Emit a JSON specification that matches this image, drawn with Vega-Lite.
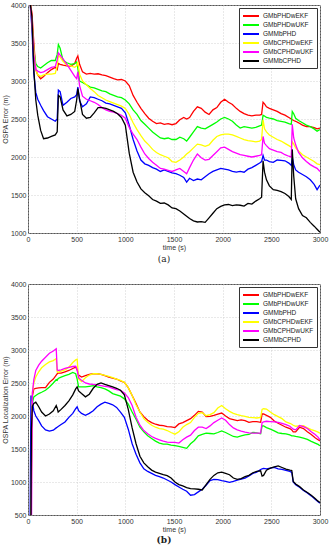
{
  "$schema": "https://vega.github.io/schema/vega-lite/v6.json",
  "background": "white",
  "padding": {"left": 0, "top": 0, "right": 2, "bottom": 0},
  "bounds": "flush",
  "spacing": 51,
  "config": {
    "font": "Liberation Sans",
    "view": {"stroke": "#555555", "strokeWidth": 1},
    "axis": {
      "labelFont": "Liberation Sans", "labelFontSize": 7, "labelColor": "#333333",
      "titleFont": "Liberation Sans", "titleFontSize": 7, "titleFontWeight": "normal", "titleColor": "#333333",
      "domain": false, "grid": true, "gridColor": "#c8c8c8", "gridDash": [1, 2], "gridWidth": 0.8,
      "ticks": false, "labelPadding": 2,
      "labelFlush": false, "labelOverlap": false, "labelBound": false
    },
    "legend": {
      "orient": "top-right", "offset": 3, "strokeColor": "#333333", "fillColor": "white",
      "padding": 3, "labelFont": "Liberation Sans", "labelFontSize": 6.5, "labelColor": "#222222",
      "symbolType": "M-1,0H3", "symbolStrokeWidth": 2, "symbolSize": 64, "rowPadding": 0, "labelOffset": 11,
      "labelLimit": 0
    }
  },
  "resolve": {"scale": {"color": "independent"}, "legend": {"color": "independent"}},
  "datasets": {
    "a": [
      {"t":0,"GMbPHDwEKF":4100,"GMbPHDwUKF":4100,"GMMbPHD":4100,"GMbCPHDwEKF":4100,"GMbCPHDwUKF":4100,"GMMbCPHD":4100},
      {"t":20,"GMbPHDwEKF":4050,"GMbPHDwUKF":4050,"GMMbPHD":4050,"GMbCPHDwEKF":4050,"GMbCPHDwUKF":4050,"GMMbCPHD":4050},
      {"t":40,"GMbPHDwEKF":3900,"GMbPHDwUKF":3800,"GMMbPHD":3700,"GMbCPHDwEKF":3800,"GMbCPHDwUKF":3800,"GMMbCPHD":3850},
      {"t":60,"GMbPHDwEKF":3500,"GMbPHDwUKF":3400,"GMMbPHD":3100,"GMbCPHDwEKF":3400,"GMbCPHDwUKF":3350,"GMMbCPHD":3150},
      {"t":80,"GMbPHDwEKF":3150,"GMbPHDwUKF":3230,"GMMbPHD":2850,"GMbCPHDwEKF":3150,"GMbCPHDwUKF":3150,"GMMbCPHD":2750},
      {"t":100,"GMbPHDwEKF":3080,"GMbPHDwUKF":3190,"GMMbPHD":2760,"GMbCPHDwEKF":3080,"GMbCPHDwUKF":3130,"GMMbCPHD":2550},
      {"t":130,"GMbPHDwEKF":3030,"GMbPHDwUKF":3170,"GMMbPHD":2680,"GMbCPHDwEKF":3060,"GMbCPHDwUKF":3110,"GMMbCPHD":2350},
      {"t":160,"GMbPHDwEKF":3060,"GMbPHDwUKF":3200,"GMMbPHD":2610,"GMbCPHDwEKF":3080,"GMbCPHDwUKF":3120,"GMMbCPHD":2240},
      {"t":200,"GMbPHDwEKF":3110,"GMbPHDwUKF":3240,"GMMbPHD":2530,"GMbCPHDwEKF":3090,"GMbCPHDwUKF":3150,"GMMbCPHD":2250},
      {"t":240,"GMbPHDwEKF":3150,"GMbPHDwUKF":3270,"GMMbPHD":2500,"GMbCPHDwEKF":3090,"GMbCPHDwUKF":3180,"GMMbCPHD":2270},
      {"t":280,"GMbPHDwEKF":3180,"GMbPHDwUKF":3270,"GMMbPHD":2470,"GMbCPHDwEKF":3100,"GMbCPHDwUKF":3190,"GMMbCPHD":2290},
      {"t":300,"GMbPHDwEKF":3150,"GMbPHDwUKF":3350,"GMMbPHD":2500,"GMbCPHDwEKF":3200,"GMbCPHDwUKF":3280,"GMMbCPHD":2330},
      {"t":312,"GMbPHDwEKF":3230,"GMbPHDwUKF":3480,"GMMbPHD":2880,"GMbCPHDwEKF":3340,"GMbCPHDwUKF":3370,"GMMbCPHD":2810},
      {"t":330,"GMbPHDwEKF":3220,"GMbPHDwUKF":3430,"GMMbPHD":2860,"GMbCPHDwEKF":3310,"GMbCPHDwUKF":3340,"GMMbCPHD":2790},
      {"t":360,"GMbPHDwEKF":3210,"GMbPHDwUKF":3270,"GMMbPHD":2680,"GMbCPHDwEKF":3260,"GMbCPHDwUKF":3290,"GMMbCPHD":2620},
      {"t":400,"GMbPHDwEKF":3200,"GMbPHDwUKF":3240,"GMMbPHD":2720,"GMbCPHDwEKF":3210,"GMbCPHDwUKF":3220,"GMMbCPHD":2540},
      {"t":440,"GMbPHDwEKF":3195,"GMbPHDwUKF":3220,"GMMbPHD":2770,"GMbCPHDwEKF":3200,"GMbCPHDwUKF":3140,"GMMbCPHD":2560},
      {"t":480,"GMbPHDwEKF":3230,"GMbPHDwUKF":3230,"GMMbPHD":2790,"GMbCPHDwEKF":3180,"GMbCPHDwUKF":3060,"GMMbCPHD":2600},
      {"t":500,"GMbPHDwEKF":3300,"GMbPHDwUKF":3250,"GMMbPHD":2820,"GMbCPHDwEKF":3200,"GMbCPHDwUKF":3030,"GMMbCPHD":2750},
      {"t":512,"GMbPHDwEKF":3330,"GMbPHDwUKF":3170,"GMMbPHD":2920,"GMbCPHDwEKF":3250,"GMbCPHDwUKF":3120,"GMMbCPHD":2900},
      {"t":530,"GMbPHDwEKF":3220,"GMbPHDwUKF":3000,"GMMbPHD":2740,"GMbCPHDwEKF":3090,"GMbCPHDwUKF":2940,"GMMbCPHD":2760},
      {"t":560,"GMbPHDwEKF":3120,"GMbPHDwUKF":2980,"GMMbPHD":2660,"GMbCPHDwEKF":3000,"GMbCPHDwUKF":2800,"GMMbCPHD":2560},
      {"t":600,"GMbPHDwEKF":3090,"GMbPHDwUKF":2950,"GMMbPHD":2700,"GMbCPHDwEKF":2950,"GMbCPHDwUKF":2760,"GMMbCPHD":2510},
      {"t":640,"GMbPHDwEKF":3100,"GMbPHDwUKF":2920,"GMMbPHD":2790,"GMbCPHDwEKF":2900,"GMbCPHDwUKF":2740,"GMMbCPHD":2520},
      {"t":680,"GMbPHDwEKF":3090,"GMbPHDwUKF":2910,"GMMbPHD":2780,"GMbCPHDwEKF":2860,"GMbCPHDwUKF":2720,"GMMbCPHD":2580},
      {"t":720,"GMbPHDwEKF":3095,"GMbPHDwUKF":2890,"GMMbPHD":2760,"GMbCPHDwEKF":2810,"GMbCPHDwUKF":2690,"GMMbCPHD":2650},
      {"t":760,"GMbPHDwEKF":3080,"GMbPHDwUKF":2870,"GMMbPHD":2740,"GMbCPHDwEKF":2780,"GMbCPHDwUKF":2650,"GMMbCPHD":2650},
      {"t":800,"GMbPHDwEKF":3070,"GMbPHDwUKF":2860,"GMMbPHD":2710,"GMbCPHDwEKF":2750,"GMbCPHDwUKF":2620,"GMMbCPHD":2640},
      {"t":840,"GMbPHDwEKF":3050,"GMbPHDwUKF":2830,"GMMbPHD":2700,"GMbCPHDwEKF":2730,"GMbCPHDwUKF":2600,"GMMbCPHD":2620},
      {"t":880,"GMbPHDwEKF":3030,"GMbPHDwUKF":2810,"GMMbPHD":2680,"GMbCPHDwEKF":2710,"GMbCPHDwUKF":2590,"GMMbCPHD":2600},
      {"t":920,"GMbPHDwEKF":3015,"GMbPHDwUKF":2790,"GMMbPHD":2660,"GMbCPHDwEKF":2690,"GMbCPHDwUKF":2570,"GMMbCPHD":2570},
      {"t":960,"GMbPHDwEKF":3020,"GMbPHDwUKF":2780,"GMMbPHD":2640,"GMbCPHDwEKF":2670,"GMbCPHDwUKF":2550,"GMMbCPHD":2520},
      {"t":1000,"GMbPHDwEKF":3000,"GMbPHDwUKF":2750,"GMMbPHD":2580,"GMbCPHDwEKF":2640,"GMbCPHDwUKF":2510,"GMMbCPHD":2420},
      {"t":1040,"GMbPHDwEKF":2940,"GMbPHDwUKF":2700,"GMMbPHD":2420,"GMbCPHDwEKF":2560,"GMbCPHDwUKF":2390,"GMMbCPHD":2050},
      {"t":1080,"GMbPHDwEKF":2810,"GMbPHDwUKF":2620,"GMMbPHD":2230,"GMbCPHDwEKF":2450,"GMbCPHDwUKF":2300,"GMMbCPHD":1800},
      {"t":1120,"GMbPHDwEKF":2720,"GMbPHDwUKF":2560,"GMMbPHD":2080,"GMbCPHDwEKF":2360,"GMbCPHDwUKF":2230,"GMMbCPHD":1670},
      {"t":1160,"GMbPHDwEKF":2640,"GMbPHDwUKF":2480,"GMMbPHD":1960,"GMbCPHDwEKF":2280,"GMbCPHDwUKF":2130,"GMMbCPHD":1580},
      {"t":1200,"GMbPHDwEKF":2570,"GMbPHDwUKF":2430,"GMMbPHD":1910,"GMbCPHDwEKF":2210,"GMbCPHDwUKF":2040,"GMMbCPHD":1530},
      {"t":1240,"GMbPHDwEKF":2510,"GMbPHDwUKF":2380,"GMMbPHD":1890,"GMbCPHDwEKF":2160,"GMbCPHDwUKF":1980,"GMMbCPHD":1490},
      {"t":1280,"GMbPHDwEKF":2470,"GMbPHDwUKF":2330,"GMMbPHD":1860,"GMbCPHDwEKF":2100,"GMbCPHDwUKF":1930,"GMMbCPHD":1440},
      {"t":1320,"GMbPHDwEKF":2440,"GMbPHDwUKF":2290,"GMMbPHD":1840,"GMbCPHDwEKF":2060,"GMbCPHDwUKF":1890,"GMMbCPHD":1420},
      {"t":1360,"GMbPHDwEKF":2450,"GMbPHDwUKF":2250,"GMMbPHD":1810,"GMbCPHDwEKF":2030,"GMbCPHDwUKF":1850,"GMMbCPHD":1390},
      {"t":1400,"GMbPHDwEKF":2430,"GMbPHDwUKF":2240,"GMMbPHD":1830,"GMbCPHDwEKF":2010,"GMbCPHDwUKF":1840,"GMMbCPHD":1395},
      {"t":1440,"GMbPHDwEKF":2440,"GMbPHDwUKF":2250,"GMMbPHD":1810,"GMbCPHDwEKF":1990,"GMbCPHDwUKF":1825,"GMMbCPHD":1370},
      {"t":1480,"GMbPHDwEKF":2425,"GMbPHDwUKF":2230,"GMMbPHD":1790,"GMbCPHDwEKF":1940,"GMbCPHDwUKF":1810,"GMMbCPHD":1330},
      {"t":1520,"GMbPHDwEKF":2440,"GMbPHDwUKF":2230,"GMMbPHD":1780,"GMbCPHDwEKF":1930,"GMbCPHDwUKF":1830,"GMMbCPHD":1320},
      {"t":1560,"GMbPHDwEKF":2490,"GMbPHDwUKF":2260,"GMMbPHD":1760,"GMbCPHDwEKF":1960,"GMbCPHDwUKF":1850,"GMMbCPHD":1290},
      {"t":1600,"GMbPHDwEKF":2520,"GMbPHDwUKF":2240,"GMMbPHD":1730,"GMbCPHDwEKF":2000,"GMbCPHDwUKF":1810,"GMMbCPHD":1250},
      {"t":1630,"GMbPHDwEKF":2500,"GMbPHDwUKF":2210,"GMMbPHD":1670,"GMbCPHDwEKF":2040,"GMbCPHDwUKF":1780,"GMMbCPHD":1220},
      {"t":1660,"GMbPHDwEKF":2520,"GMbPHDwUKF":2260,"GMMbPHD":1720,"GMbCPHDwEKF":2070,"GMbCPHDwUKF":1860,"GMMbCPHD":1190},
      {"t":1700,"GMbPHDwEKF":2600,"GMbPHDwUKF":2330,"GMMbPHD":1690,"GMbCPHDwEKF":2120,"GMbCPHDwUKF":1960,"GMMbCPHD":1160},
      {"t":1740,"GMbPHDwEKF":2660,"GMbPHDwUKF":2400,"GMMbPHD":1710,"GMbCPHDwEKF":2170,"GMbCPHDwUKF":2040,"GMMbCPHD":1145},
      {"t":1780,"GMbPHDwEKF":2640,"GMbPHDwUKF":2380,"GMMbPHD":1700,"GMbCPHDwEKF":2160,"GMbCPHDwUKF":1990,"GMMbCPHD":1150},
      {"t":1820,"GMbPHDwEKF":2590,"GMbPHDwUKF":2370,"GMMbPHD":1740,"GMbCPHDwEKF":2140,"GMbCPHDwUKF":1960,"GMMbCPHD":1140},
      {"t":1860,"GMbPHDwEKF":2560,"GMbPHDwUKF":2400,"GMMbPHD":1780,"GMbCPHDwEKF":2160,"GMbCPHDwUKF":1970,"GMMbCPHD":1200},
      {"t":1900,"GMbPHDwEKF":2620,"GMbPHDwUKF":2430,"GMMbPHD":1810,"GMbCPHDwEKF":2220,"GMbCPHDwUKF":2020,"GMMbCPHD":1260},
      {"t":1940,"GMbPHDwEKF":2650,"GMbPHDwUKF":2460,"GMMbPHD":1830,"GMbCPHDwEKF":2270,"GMbCPHDwUKF":2070,"GMMbCPHD":1320},
      {"t":1980,"GMbPHDwEKF":2720,"GMbPHDwUKF":2500,"GMMbPHD":1850,"GMbCPHDwEKF":2290,"GMbCPHDwUKF":2120,"GMMbCPHD":1350},
      {"t":2020,"GMbPHDwEKF":2760,"GMbPHDwUKF":2520,"GMMbPHD":1840,"GMbCPHDwEKF":2300,"GMbCPHDwUKF":2130,"GMMbCPHD":1370},
      {"t":2060,"GMbPHDwEKF":2720,"GMbPHDwUKF":2500,"GMMbPHD":1830,"GMbCPHDwEKF":2300,"GMbCPHDwUKF":2100,"GMMbCPHD":1375},
      {"t":2100,"GMbPHDwEKF":2690,"GMbPHDwUKF":2470,"GMMbPHD":1810,"GMbCPHDwEKF":2290,"GMbCPHDwUKF":2070,"GMMbCPHD":1360},
      {"t":2140,"GMbPHDwEKF":2640,"GMbPHDwUKF":2420,"GMMbPHD":1800,"GMbCPHDwEKF":2270,"GMbCPHDwUKF":2050,"GMMbCPHD":1370},
      {"t":2180,"GMbPHDwEKF":2600,"GMbPHDwUKF":2380,"GMMbPHD":1810,"GMbCPHDwEKF":2250,"GMbCPHDwUKF":2030,"GMMbCPHD":1365},
      {"t":2220,"GMbPHDwEKF":2570,"GMbPHDwUKF":2400,"GMMbPHD":1800,"GMbCPHDwEKF":2230,"GMbCPHDwUKF":2020,"GMMbCPHD":1355},
      {"t":2260,"GMbPHDwEKF":2550,"GMbPHDwUKF":2390,"GMMbPHD":1840,"GMbCPHDwEKF":2215,"GMbCPHDwUKF":2010,"GMMbCPHD":1390},
      {"t":2300,"GMbPHDwEKF":2540,"GMbPHDwUKF":2380,"GMMbPHD":1860,"GMbCPHDwEKF":2210,"GMbCPHDwUKF":2000,"GMMbCPHD":1380},
      {"t":2340,"GMbPHDwEKF":2550,"GMbPHDwUKF":2390,"GMMbPHD":1890,"GMbCPHDwEKF":2200,"GMbCPHDwUKF":2010,"GMMbCPHD":1420},
      {"t":2380,"GMbPHDwEKF":2550,"GMbPHDwUKF":2410,"GMMbPHD":1920,"GMbCPHDwEKF":2210,"GMbCPHDwUKF":2020,"GMMbCPHD":1450},
      {"t":2400,"GMbPHDwEKF":2560,"GMbPHDwUKF":2420,"GMMbPHD":1940,"GMbCPHDwEKF":2230,"GMbCPHDwUKF":2030,"GMMbCPHD":1470},
      {"t":2415,"GMbPHDwEKF":2720,"GMbPHDwUKF":2550,"GMMbPHD":2020,"GMbCPHDwEKF":2490,"GMbCPHDwUKF":2270,"GMMbCPHD":1950},
      {"t":2430,"GMbPHDwEKF":2700,"GMbPHDwUKF":2540,"GMMbPHD":1960,"GMbCPHDwEKF":2370,"GMbCPHDwUKF":2180,"GMMbCPHD":1800},
      {"t":2450,"GMbPHDwEKF":2660,"GMbPHDwUKF":2520,"GMMbPHD":1960,"GMbCPHDwEKF":2330,"GMbCPHDwUKF":2150,"GMMbCPHD":1700},
      {"t":2480,"GMbPHDwEKF":2640,"GMbPHDwUKF":2510,"GMMbPHD":1940,"GMbCPHDwEKF":2290,"GMbCPHDwUKF":2110,"GMMbCPHD":1620},
      {"t":2520,"GMbPHDwEKF":2620,"GMbPHDwUKF":2500,"GMMbPHD":1930,"GMbCPHDwEKF":2260,"GMbCPHDwUKF":2090,"GMMbCPHD":1570},
      {"t":2560,"GMbPHDwEKF":2600,"GMbPHDwUKF":2480,"GMMbPHD":1960,"GMbCPHDwEKF":2230,"GMbCPHDwUKF":2070,"GMMbCPHD":1560},
      {"t":2600,"GMbPHDwEKF":2570,"GMbPHDwUKF":2470,"GMMbPHD":1955,"GMbCPHDwEKF":2210,"GMbCPHDwUKF":2060,"GMMbCPHD":1545},
      {"t":2640,"GMbPHDwEKF":2550,"GMbPHDwUKF":2460,"GMMbPHD":1950,"GMbCPHDwEKF":2180,"GMbCPHDwUKF":2030,"GMMbCPHD":1520},
      {"t":2680,"GMbPHDwEKF":2520,"GMbPHDwUKF":2440,"GMMbPHD":1920,"GMbCPHDwEKF":2150,"GMbCPHDwUKF":2010,"GMMbCPHD":1480},
      {"t":2705,"GMbPHDwEKF":2500,"GMbPHDwUKF":2430,"GMMbPHD":1890,"GMbCPHDwEKF":2130,"GMbCPHDwUKF":2000,"GMMbCPHD":1440},
      {"t":2715,"GMbPHDwEKF":2490,"GMbPHDwUKF":2600,"GMMbPHD":2000,"GMbCPHDwEKF":2200,"GMbCPHDwUKF":2430,"GMMbCPHD":2100},
      {"t":2730,"GMbPHDwEKF":2480,"GMbPHDwUKF":2570,"GMMbPHD":1900,"GMbCPHDwEKF":2170,"GMbCPHDwUKF":2250,"GMMbCPHD":1750},
      {"t":2750,"GMbPHDwEKF":2470,"GMbPHDwUKF":2510,"GMMbPHD":1830,"GMbCPHDwEKF":2120,"GMbCPHDwUKF":2160,"GMMbCPHD":1450},
      {"t":2780,"GMbPHDwEKF":2450,"GMbPHDwUKF":2480,"GMMbPHD":1800,"GMbCPHDwEKF":2080,"GMbCPHDwUKF":2060,"GMMbCPHD":1320},
      {"t":2820,"GMbPHDwEKF":2420,"GMbPHDwUKF":2450,"GMMbPHD":1770,"GMbCPHDwEKF":2030,"GMbCPHDwUKF":1990,"GMMbCPHD":1230},
      {"t":2860,"GMbPHDwEKF":2400,"GMbPHDwUKF":2420,"GMMbPHD":1740,"GMbCPHDwEKF":2000,"GMbCPHDwUKF":1940,"GMMbCPHD":1200},
      {"t":2900,"GMbPHDwEKF":2400,"GMbPHDwUKF":2400,"GMMbPHD":1700,"GMbCPHDwEKF":1970,"GMbCPHDwUKF":1900,"GMMbCPHD":1140},
      {"t":2940,"GMbPHDwEKF":2385,"GMbPHDwUKF":2370,"GMMbPHD":1640,"GMbCPHDwEKF":1940,"GMbCPHDwUKF":1870,"GMMbCPHD":1090},
      {"t":2970,"GMbPHDwEKF":2370,"GMbPHDwUKF":2340,"GMMbPHD":1570,"GMbCPHDwEKF":1910,"GMbCPHDwUKF":1850,"GMMbCPHD":1050},
      {"t":3000,"GMbPHDwEKF":2380,"GMbPHDwUKF":2360,"GMMbPHD":1630,"GMbCPHDwEKF":1900,"GMbCPHDwUKF":1810,"GMMbCPHD":1010}
    ],
    "b": [
      {"t":0,"GMbPHDwEKF":0,"GMbPHDwUKF":0,"GMMbPHD":0,"GMbCPHDwEKF":0,"GMbCPHDwUKF":0,"GMMbCPHD":0},
      {"t":20,"GMbPHDwEKF":0,"GMbPHDwUKF":0,"GMMbPHD":0,"GMbCPHDwEKF":0,"GMbCPHDwUKF":0,"GMMbCPHD":0},
      {"t":30,"GMbPHDwEKF":200,"GMbPHDwUKF":100,"GMMbPHD":2300,"GMbCPHDwEKF":100,"GMbCPHDwUKF":0,"GMMbCPHD":300},
      {"t":35,"GMbPHDwEKF":1500,"GMbPHDwUKF":1200,"GMMbPHD":2300,"GMbCPHDwEKF":1000,"GMbCPHDwUKF":200,"GMMbCPHD":1800},
      {"t":45,"GMbPHDwEKF":2300,"GMbPHDwUKF":2200,"GMMbPHD":2220,"GMbCPHDwEKF":2350,"GMbCPHDwUKF":2350,"GMMbCPHD":2150},
      {"t":60,"GMbPHDwEKF":2410,"GMbPHDwUKF":2290,"GMMbPHD":2080,"GMbCPHDwEKF":2500,"GMbCPHDwUKF":2550,"GMMbCPHD":2190},
      {"t":80,"GMbPHDwEKF":2420,"GMbPHDwUKF":2310,"GMMbPHD":2000,"GMbCPHDwEKF":2590,"GMbCPHDwUKF":2690,"GMMbCPHD":2210},
      {"t":110,"GMbPHDwEKF":2425,"GMbPHDwUKF":2340,"GMMbPHD":1930,"GMbCPHDwEKF":2670,"GMbCPHDwUKF":2770,"GMMbCPHD":2140},
      {"t":140,"GMbPHDwEKF":2430,"GMbPHDwUKF":2360,"GMMbPHD":1850,"GMbCPHDwEKF":2730,"GMbCPHDwUKF":2830,"GMMbCPHD":2060},
      {"t":180,"GMbPHDwEKF":2430,"GMbPHDwUKF":2390,"GMMbPHD":1790,"GMbCPHDwEKF":2780,"GMbCPHDwUKF":2890,"GMMbCPHD":2000},
      {"t":220,"GMbPHDwEKF":2510,"GMbPHDwUKF":2440,"GMMbPHD":1770,"GMbCPHDwEKF":2820,"GMbCPHDwUKF":2950,"GMMbCPHD":2030},
      {"t":260,"GMbPHDwEKF":2560,"GMbPHDwUKF":2500,"GMMbPHD":1785,"GMbCPHDwEKF":2840,"GMbCPHDwUKF":2985,"GMMbCPHD":2080},
      {"t":290,"GMbPHDwEKF":2620,"GMbPHDwUKF":2550,"GMMbPHD":1820,"GMbCPHDwEKF":2870,"GMbCPHDwUKF":3020,"GMMbCPHD":2160},
      {"t":300,"GMbPHDwEKF":2640,"GMbPHDwUKF":2540,"GMMbPHD":1830,"GMbCPHDwEKF":2670,"GMbCPHDwUKF":2700,"GMMbCPHD":2120},
      {"t":310,"GMbPHDwEKF":2650,"GMbPHDwUKF":2570,"GMMbPHD":1840,"GMbCPHDwEKF":2660,"GMbCPHDwUKF":2690,"GMMbCPHD":2060},
      {"t":340,"GMbPHDwEKF":2650,"GMbPHDwUKF":2590,"GMMbPHD":1870,"GMbCPHDwEKF":2680,"GMbCPHDwUKF":2700,"GMMbCPHD":2100},
      {"t":380,"GMbPHDwEKF":2670,"GMbPHDwUKF":2610,"GMMbPHD":1910,"GMbCPHDwEKF":2700,"GMbCPHDwUKF":2720,"GMMbCPHD":2160},
      {"t":420,"GMbPHDwEKF":2690,"GMbPHDwUKF":2630,"GMMbPHD":1980,"GMbCPHDwEKF":2740,"GMbCPHDwUKF":2735,"GMMbCPHD":2230},
      {"t":460,"GMbPHDwEKF":2720,"GMbPHDwUKF":2660,"GMMbPHD":2040,"GMbCPHDwEKF":2810,"GMbCPHDwUKF":2750,"GMMbCPHD":2320},
      {"t":490,"GMbPHDwEKF":2740,"GMbPHDwUKF":2640,"GMMbPHD":2110,"GMbCPHDwEKF":2850,"GMbCPHDwUKF":2755,"GMMbCPHD":2410},
      {"t":505,"GMbPHDwEKF":2700,"GMbPHDwUKF":2560,"GMMbPHD":2140,"GMbCPHDwEKF":2860,"GMbCPHDwUKF":2700,"GMMbCPHD":2440},
      {"t":520,"GMbPHDwEKF":2620,"GMbPHDwUKF":2440,"GMMbPHD":2080,"GMbCPHDwEKF":2560,"GMbCPHDwUKF":2580,"GMMbCPHD":2380},
      {"t":550,"GMbPHDwEKF":2590,"GMbPHDwUKF":2440,"GMMbPHD":2040,"GMbCPHDwEKF":2520,"GMbCPHDwUKF":2540,"GMMbCPHD":2340},
      {"t":590,"GMbPHDwEKF":2610,"GMbPHDwUKF":2440,"GMMbPHD":2010,"GMbCPHDwEKF":2580,"GMbCPHDwUKF":2500,"GMMbCPHD":2290},
      {"t":630,"GMbPHDwEKF":2630,"GMbPHDwUKF":2450,"GMMbPHD":2040,"GMbCPHDwEKF":2620,"GMbCPHDwUKF":2485,"GMMbCPHD":2330},
      {"t":670,"GMbPHDwEKF":2640,"GMbPHDwUKF":2460,"GMMbPHD":2080,"GMbCPHDwEKF":2640,"GMbCPHDwUKF":2480,"GMMbCPHD":2420},
      {"t":710,"GMbPHDwEKF":2640,"GMbPHDwUKF":2440,"GMMbPHD":2140,"GMbCPHDwEKF":2640,"GMbCPHDwUKF":2470,"GMMbCPHD":2480},
      {"t":750,"GMbPHDwEKF":2630,"GMbPHDwUKF":2430,"GMMbPHD":2180,"GMbCPHDwEKF":2630,"GMbCPHDwUKF":2460,"GMMbCPHD":2500},
      {"t":790,"GMbPHDwEKF":2610,"GMbPHDwUKF":2410,"GMMbPHD":2210,"GMbCPHDwEKF":2615,"GMbCPHDwUKF":2450,"GMMbCPHD":2480},
      {"t":830,"GMbPHDwEKF":2590,"GMbPHDwUKF":2380,"GMMbPHD":2190,"GMbCPHDwEKF":2600,"GMbCPHDwUKF":2440,"GMMbCPHD":2460},
      {"t":870,"GMbPHDwEKF":2575,"GMbPHDwUKF":2340,"GMMbPHD":2170,"GMbCPHDwEKF":2580,"GMbCPHDwUKF":2420,"GMMbCPHD":2440},
      {"t":910,"GMbPHDwEKF":2560,"GMbPHDwUKF":2320,"GMMbPHD":2130,"GMbCPHDwEKF":2560,"GMbCPHDwUKF":2400,"GMMbCPHD":2420},
      {"t":950,"GMbPHDwEKF":2530,"GMbPHDwUKF":2300,"GMMbPHD":2060,"GMbCPHDwEKF":2540,"GMbCPHDwUKF":2390,"GMMbCPHD":2390},
      {"t":990,"GMbPHDwEKF":2510,"GMbPHDwUKF":2260,"GMMbPHD":1980,"GMbCPHDwEKF":2510,"GMbCPHDwUKF":2350,"GMMbCPHD":2320},
      {"t":1030,"GMbPHDwEKF":2430,"GMbPHDwUKF":2180,"GMMbPHD":1800,"GMbCPHDwEKF":2430,"GMbCPHDwUKF":2280,"GMMbCPHD":2100},
      {"t":1070,"GMbPHDwEKF":2310,"GMbPHDwUKF":2060,"GMMbPHD":1580,"GMbCPHDwEKF":2310,"GMbCPHDwUKF":2160,"GMMbCPHD":1820},
      {"t":1110,"GMbPHDwEKF":2190,"GMbPHDwUKF":1950,"GMMbPHD":1420,"GMbCPHDwEKF":2170,"GMbCPHDwUKF":1980,"GMMbCPHD":1580},
      {"t":1150,"GMbPHDwEKF":2060,"GMbPHDwUKF":1830,"GMMbPHD":1290,"GMbCPHDwEKF":2060,"GMbCPHDwUKF":1860,"GMMbCPHD":1390},
      {"t":1190,"GMbPHDwEKF":1990,"GMbPHDwUKF":1760,"GMMbPHD":1200,"GMbCPHDwEKF":1960,"GMbCPHDwUKF":1780,"GMMbCPHD":1290},
      {"t":1230,"GMbPHDwEKF":1935,"GMbPHDwUKF":1700,"GMMbPHD":1160,"GMbCPHDwEKF":1905,"GMbCPHDwUKF":1730,"GMMbCPHD":1230},
      {"t":1270,"GMbPHDwEKF":1900,"GMbPHDwUKF":1660,"GMMbPHD":1130,"GMbCPHDwEKF":1860,"GMbCPHDwUKF":1690,"GMMbCPHD":1180},
      {"t":1310,"GMbPHDwEKF":1875,"GMbPHDwUKF":1620,"GMMbPHD":1100,"GMbCPHDwEKF":1830,"GMbCPHDwUKF":1660,"GMMbCPHD":1150},
      {"t":1350,"GMbPHDwEKF":1860,"GMbPHDwUKF":1590,"GMMbPHD":1080,"GMbCPHDwEKF":1810,"GMbCPHDwUKF":1640,"GMMbCPHD":1130},
      {"t":1390,"GMbPHDwEKF":1855,"GMbPHDwUKF":1575,"GMMbPHD":1060,"GMbCPHDwEKF":1800,"GMbCPHDwUKF":1620,"GMMbCPHD":1110},
      {"t":1430,"GMbPHDwEKF":1840,"GMbPHDwUKF":1575,"GMMbPHD":1030,"GMbCPHDwEKF":1780,"GMbCPHDwUKF":1605,"GMMbCPHD":1095},
      {"t":1470,"GMbPHDwEKF":1835,"GMbPHDwUKF":1560,"GMMbPHD":1000,"GMbCPHDwEKF":1750,"GMbCPHDwUKF":1600,"GMMbCPHD":1060},
      {"t":1510,"GMbPHDwEKF":1825,"GMbPHDwUKF":1550,"GMMbPHD":960,"GMbCPHDwEKF":1725,"GMbCPHDwUKF":1600,"GMMbCPHD":1000},
      {"t":1550,"GMbPHDwEKF":1880,"GMbPHDwUKF":1540,"GMMbPHD":925,"GMbCPHDwEKF":1760,"GMbCPHDwUKF":1590,"GMMbCPHD":960},
      {"t":1590,"GMbPHDwEKF":1900,"GMbPHDwUKF":1525,"GMMbPHD":890,"GMbCPHDwEKF":1830,"GMbCPHDwUKF":1640,"GMMbCPHD":940},
      {"t":1630,"GMbPHDwEKF":1930,"GMbPHDwUKF":1510,"GMMbPHD":860,"GMbCPHDwEKF":1870,"GMbCPHDwUKF":1680,"GMMbCPHD":915},
      {"t":1670,"GMbPHDwEKF":1960,"GMbPHDwUKF":1580,"GMMbPHD":800,"GMbCPHDwEKF":1900,"GMbCPHDwUKF":1710,"GMMbCPHD":900},
      {"t":1710,"GMbPHDwEKF":2010,"GMbPHDwUKF":1630,"GMMbPHD":810,"GMbCPHDwEKF":1980,"GMbCPHDwUKF":1780,"GMMbCPHD":895},
      {"t":1750,"GMbPHDwEKF":2070,"GMbPHDwUKF":1700,"GMMbPHD":850,"GMbCPHDwEKF":2040,"GMbCPHDwUKF":1830,"GMMbCPHD":890},
      {"t":1790,"GMbPHDwEKF":2060,"GMbPHDwUKF":1720,"GMMbPHD":890,"GMbCPHDwEKF":2050,"GMbCPHDwUKF":1830,"GMMbCPHD":880},
      {"t":1830,"GMbPHDwEKF":1990,"GMbPHDwUKF":1740,"GMMbPHD":950,"GMbCPHDwEKF":2005,"GMbCPHDwUKF":1810,"GMMbCPHD":960},
      {"t":1870,"GMbPHDwEKF":1995,"GMbPHDwUKF":1735,"GMMbPHD":1020,"GMbCPHDwEKF":2020,"GMbCPHDwUKF":1850,"GMMbCPHD":1040},
      {"t":1910,"GMbPHDwEKF":2010,"GMbPHDwUKF":1730,"GMMbPHD":1040,"GMbCPHDwEKF":2050,"GMbCPHDwUKF":1900,"GMMbCPHD":1100},
      {"t":1950,"GMbPHDwEKF":2030,"GMbPHDwUKF":1750,"GMMbPHD":1035,"GMbCPHDwEKF":2120,"GMbCPHDwUKF":1935,"GMMbCPHD":1140},
      {"t":1990,"GMbPHDwEKF":2045,"GMbPHDwUKF":1775,"GMMbPHD":1020,"GMbCPHDwEKF":2160,"GMbCPHDwUKF":1970,"GMMbCPHD":1150},
      {"t":2030,"GMbPHDwEKF":2000,"GMbPHDwUKF":1750,"GMMbPHD":1010,"GMbCPHDwEKF":2110,"GMbCPHDwUKF":1935,"GMMbCPHD":1130},
      {"t":2070,"GMbPHDwEKF":1960,"GMbPHDwUKF":1720,"GMMbPHD":995,"GMbCPHDwEKF":2070,"GMbCPHDwUKF":1870,"GMMbCPHD":1110},
      {"t":2110,"GMbPHDwEKF":1945,"GMbPHDwUKF":1690,"GMMbPHD":1010,"GMbCPHDwEKF":2040,"GMbCPHDwUKF":1820,"GMMbCPHD":1060},
      {"t":2150,"GMbPHDwEKF":1930,"GMbPHDwUKF":1680,"GMMbPHD":1030,"GMbCPHDwEKF":2020,"GMbCPHDwUKF":1790,"GMMbCPHD":1040},
      {"t":2190,"GMbPHDwEKF":1940,"GMbPHDwUKF":1700,"GMMbPHD":1045,"GMbCPHDwEKF":2005,"GMbCPHDwUKF":1770,"GMMbCPHD":1050},
      {"t":2230,"GMbPHDwEKF":1930,"GMbPHDwUKF":1715,"GMMbPHD":1060,"GMbCPHDwEKF":1995,"GMbCPHDwUKF":1755,"GMMbCPHD":1080},
      {"t":2270,"GMbPHDwEKF":1905,"GMbPHDwUKF":1720,"GMMbPHD":1090,"GMbCPHDwEKF":1980,"GMbCPHDwUKF":1745,"GMMbCPHD":1100},
      {"t":2310,"GMbPHDwEKF":1915,"GMbPHDwUKF":1750,"GMMbPHD":1130,"GMbCPHDwEKF":1975,"GMbCPHDwUKF":1740,"GMMbCPHD":1140},
      {"t":2350,"GMbPHDwEKF":1915,"GMbPHDwUKF":1745,"GMMbPHD":1150,"GMbCPHDwEKF":1970,"GMbCPHDwUKF":1740,"GMMbCPHD":1160},
      {"t":2390,"GMbPHDwEKF":1905,"GMbPHDwUKF":1730,"GMMbPHD":1190,"GMbCPHDwEKF":1980,"GMbCPHDwUKF":1740,"GMMbCPHD":1170},
      {"t":2405,"GMbPHDwEKF":2030,"GMbPHDwUKF":1850,"GMMbPHD":1200,"GMbCPHDwEKF":2100,"GMbCPHDwUKF":1900,"GMMbCPHD":1090},
      {"t":2420,"GMbPHDwEKF":2030,"GMbPHDwUKF":1850,"GMMbPHD":1205,"GMbCPHDwEKF":2110,"GMbCPHDwUKF":1910,"GMMbCPHD":1100},
      {"t":2450,"GMbPHDwEKF":2010,"GMbPHDwUKF":1825,"GMMbPHD":1200,"GMbCPHDwEKF":2105,"GMbCPHDwUKF":1920,"GMMbCPHD":1180},
      {"t":2490,"GMbPHDwEKF":1980,"GMbPHDwUKF":1800,"GMMbPHD":1210,"GMbCPHDwEKF":2060,"GMbCPHDwUKF":1915,"GMMbCPHD":1210},
      {"t":2530,"GMbPHDwEKF":1925,"GMbPHDwUKF":1775,"GMMbPHD":1220,"GMbCPHDwEKF":2020,"GMbCPHDwUKF":1910,"GMMbCPHD":1230},
      {"t":2570,"GMbPHDwEKF":1890,"GMbPHDwUKF":1745,"GMMbPHD":1200,"GMbCPHDwEKF":1990,"GMbCPHDwUKF":1905,"GMMbCPHD":1245},
      {"t":2610,"GMbPHDwEKF":1860,"GMbPHDwUKF":1735,"GMMbPHD":1190,"GMbCPHDwEKF":1960,"GMbCPHDwUKF":1890,"GMMbCPHD":1220},
      {"t":2650,"GMbPHDwEKF":1830,"GMbPHDwUKF":1730,"GMMbPHD":1175,"GMbCPHDwEKF":1910,"GMbCPHDwUKF":1870,"GMMbCPHD":1195},
      {"t":2690,"GMbPHDwEKF":1810,"GMbPHDwUKF":1715,"GMMbPHD":1160,"GMbCPHDwEKF":1890,"GMbCPHDwUKF":1845,"GMMbCPHD":1180},
      {"t":2710,"GMbPHDwEKF":1790,"GMbPHDwUKF":1700,"GMMbPHD":1145,"GMbCPHDwEKF":1875,"GMbCPHDwUKF":1820,"GMMbCPHD":1175},
      {"t":2725,"GMbPHDwEKF":1760,"GMbPHDwUKF":1700,"GMMbPHD":1000,"GMbCPHDwEKF":1860,"GMbCPHDwUKF":1800,"GMMbCPHD":1010},
      {"t":2750,"GMbPHDwEKF":1760,"GMbPHDwUKF":1690,"GMMbPHD":960,"GMbCPHDwEKF":1845,"GMbCPHDwUKF":1790,"GMMbCPHD":970},
      {"t":2790,"GMbPHDwEKF":1830,"GMbPHDwUKF":1680,"GMMbPHD":920,"GMbCPHDwEKF":1850,"GMbCPHDwUKF":1855,"GMMbCPHD":930},
      {"t":2830,"GMbPHDwEKF":1810,"GMbPHDwUKF":1665,"GMMbPHD":870,"GMbCPHDwEKF":1855,"GMbCPHDwUKF":1840,"GMMbCPHD":880},
      {"t":2870,"GMbPHDwEKF":1760,"GMbPHDwUKF":1645,"GMMbPHD":835,"GMbCPHDwEKF":1820,"GMbCPHDwUKF":1810,"GMMbCPHD":840},
      {"t":2910,"GMbPHDwEKF":1720,"GMbPHDwUKF":1615,"GMMbPHD":790,"GMbCPHDwEKF":1795,"GMbCPHDwUKF":1760,"GMMbCPHD":800},
      {"t":2950,"GMbPHDwEKF":1670,"GMbPHDwUKF":1590,"GMMbPHD":740,"GMbCPHDwEKF":1775,"GMbCPHDwUKF":1720,"GMMbCPHD":750},
      {"t":2980,"GMbPHDwEKF":1640,"GMbPHDwUKF":1570,"GMMbPHD":700,"GMbCPHDwEKF":1755,"GMbCPHDwUKF":1680,"GMMbCPHD":710},
      {"t":3000,"GMbPHDwEKF":1620,"GMbPHDwUKF":1550,"GMMbPHD":680,"GMbCPHDwEKF":1740,"GMbCPHDwUKF":1640,"GMMbCPHD":690}
    ]
  },
  "vconcat": [
    {
      "width": 292, "height": 228,
      "data": {"name": "a"},
      "transform": [{"fold": ["GMbPHDwEKF","GMbPHDwUKF","GMMbPHD","GMbCPHDwEKF","GMbCPHDwUKF","GMMbCPHD"], "as": ["series","value"]}],
      "title": {"text": "(a)", "orient": "bottom", "font": "DejaVu Serif", "fontSize": 9, "fontWeight": "normal", "color": "#222222", "offset": 5, "dx": -10},
      "mark": {"type": "line", "clip": true, "strokeWidth": 1.3},
      "encoding": {
        "x": {"field": "t", "type": "quantitative", "scale": {"domain": [0, 3000], "nice": false},
              "axis": {"title": "time (s)", "values": [0,500,1000,1500,2000,2500,3000], "format": "d", "titlePadding": 1}},
        "y": {"field": "value", "type": "quantitative", "scale": {"domain": [1000, 4000], "nice": false, "zero": false},
              "axis": {"title": "OSPA Error (m)", "values": [1000,1500,2000,2500,3000,3500,4000], "format": "d", "titlePadding": 2}},
        "color": {"field": "series", "type": "nominal",
                  "scale": {"domain": ["GMbPHDwEKF","GMbPHDwUKF","GMMbPHD","GMbCPHDwEKF","GMbCPHDwUKF","GMMbCPHD"],
                            "range": ["#ff0000","#00ff00","#0000ff","#ffff00","#ff00ff","#000000"]},
                  "legend": {"title": null}}
      }
    },
    {
      "width": 292, "height": 231,
      "data": {"name": "b"},
      "transform": [{"fold": ["GMbPHDwEKF","GMbPHDwUKF","GMMbPHD","GMbCPHDwEKF","GMbCPHDwUKF","GMMbCPHD"], "as": ["series","value"]}],
      "title": {"text": "(b)", "orient": "bottom", "font": "DejaVu Serif", "fontSize": 9, "fontWeight": "bold", "color": "#222222", "offset": 4, "dx": -10},
      "mark": {"type": "line", "clip": true, "strokeWidth": 1.3},
      "encoding": {
        "x": {"field": "t", "type": "quantitative", "scale": {"domain": [0, 3000], "nice": false},
              "axis": {"title": "time (s)", "values": [0,500,1000,1500,2000,2500,3000], "format": "d", "titlePadding": 1}},
        "y": {"field": "value", "type": "quantitative", "scale": {"domain": [500, 4000], "nice": false, "zero": false},
              "axis": {"title": "OSPA Localization Error (m)", "values": [500,1000,1500,2000,2500,3000,3500,4000], "format": "d", "titlePadding": 2}},
        "color": {"field": "series", "type": "nominal",
                  "scale": {"domain": ["GMbPHDwEKF","GMbPHDwUKF","GMMbPHD","GMbCPHDwEKF","GMbCPHDwUKF","GMMbCPHD"],
                            "range": ["#ff0000","#00ff00","#0000ff","#ffff00","#ff00ff","#000000"]},
                  "legend": {"title": null}}
      }
    }
  ]
}
